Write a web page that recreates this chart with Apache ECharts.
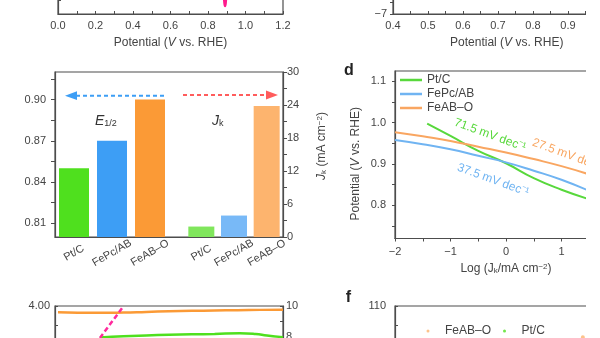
<!DOCTYPE html>
<html><head><meta charset="utf-8">
<script src="https://cdn.jsdelivr.net/npm/echarts@6/dist/echarts.min.js"></script>
<style>html,body{margin:0;padding:0;background:#fff;overflow:hidden}#main{width:586px;height:338px}</style>
</head><body><div id="main"></div>
<script>
// ---------- data ----------
const barCategories = ['Pt/C', 'FePc/AB', 'FeAB–O'];
const e12Values = [0.850, 0.870, 0.900];
const jkValues = [1.9, 3.9, 23.8];
const e12Labels = [0.81, 0.84, 0.87, 0.90];
const e12Ticks = [0.81, 0.825, 0.84, 0.855, 0.87, 0.885, 0.90, 0.915];
const jkLabels = [0, 6, 12, 18, 24, 30];
const jkTicks = [0, 3, 6, 9, 12, 15, 18, 21, 24, 27, 30];

const tafelNames = ['Pt/C', 'FePc/AB', 'FeAB–O'];
const tafelPtC = [[-1.42, 0.998], [-1.0, 0.968], [-0.5, 0.932], [0, 0.902], [0.5, 0.866], [1.0, 0.838], [1.5, 0.815]];
const tafelFePc = [[-2, 0.958], [-1.5, 0.948], [-1, 0.936], [-0.5, 0.920], [0, 0.904], [0.5, 0.884], [1.0, 0.862], [1.5, 0.835]];
const tafelFeAB = [[-2, 0.977], [-1.5, 0.967], [-1, 0.956], [-0.5, 0.942], [0, 0.928], [0.5, 0.912], [1.0, 0.895], [1.5, 0.875]];
const tafelXLabels = [-2, -1, 0, 1, 2];
const tafelXTicks = [-2, -1.5, -1, -0.5, 0, 0.5, 1, 1.5, 2];
const tafelYLabels = [0.8, 0.9, 1.0, 1.1];
const tafelYTicks = [0.75, 0.8, 0.85, 0.9, 0.95, 1.0, 1.05, 1.1];
const tafelSlopes = ['71.5', '37.5', '27.5'];

const aXLabels = [0, 0.2, 0.4, 0.6, 0.8, 1.0, 1.2];
const aXTicks = [0, 0.1, 0.2, 0.3, 0.4, 0.5, 0.6, 0.7, 0.8, 0.9, 1.0, 1.1, 1.2];
const aYTicks = [-6, -5.5, -5];
const aCurve = [[0.884, -5.2], [0.888, -5.6], [0.891, -5.71], [0.894, -5.6], [0.898, -5.2]];

const bXLabels = [0.4, 0.5, 0.6, 0.7, 0.8, 0.9, 1.0];
const bXTicks = [0.4, 0.45, 0.5, 0.55, 0.6, 0.65, 0.7, 0.75, 0.8, 0.85, 0.9, 0.95, 1.0, 1.05];
const bYLabels = [-7];
const bYTicks = [-7, -6.5];

const eLeftLabels = [4];
const eLeftTicks = [3.5, 4];
const eRightLabels = [8, 10];
const eRightTicks = [8, 9, 10];
const eFeAB = [[1.3, 9.59], [10, 9.57], [20, 9.56], [30, 9.58], [40, 9.62], [50, 9.66], [60, 9.69], [70, 9.71], [80, 9.73], [90, 9.75], [100, 9.76]];
const ePtC = [[19.7, 7.97], [30, 8.05], [40, 8.1], [50, 8.14], [60, 8.17], [70, 8.2], [81, 8.25], [88, 8.2], [93, 8.1], [100, 7.99]];
const eMagenta = [[19.7, 7.94], [29.8, 9.94]];

const fLabels = [110];
const fTicks = [105, 110];
const fFeAB = [[9.8, 101.8]];
const fPtC = [];

// ---------- styles ----------
const AX = '#4d4d4d';
const TXT = '#444';
const FONT = 'Liberation Sans, Arial, sans-serif';
const GREEN = '#4fe01e', BLUE = '#3d9ef5', ORANGE = '#fb9a36';
const LGREEN = '#80e65c', LBLUE = '#78b9f7', LORANGE = '#fdb46e';
const TGREEN = '#58d83c', TBLUE = '#70b4f2', TORANGE = '#f9a661';
const minus = v => String(v).replace('-', '−');
const line = {onZero: false, lineStyle: {color: AX, width: 1.2}};
const richSub = {
  n: {fontSize: 12, color: TXT, fontFamily: FONT},
  i: {fontSize: 12, color: TXT, fontStyle: 'italic', fontFamily: FONT},
  sub: {fontSize: 8, color: TXT, verticalAlign: 'bottom', fontFamily: FONT},
  sup: {fontSize: 8, color: TXT, verticalAlign: 'top', fontFamily: FONT}
};
const potName = '{n|Potential (}{i|V}{n| vs. RHE)}';
const frame = {show: true, borderColor: AX, borderWidth: 1.2, backgroundColor: 'transparent', outerBoundsMode: 'none', containLabel: false};
const plain = {outerBoundsMode: 'none', containLabel: false};

const chart = echarts.init(document.getElementById('main'));
const option = {
  animation: false,
  textStyle: {fontFamily: FONT, color: TXT},
  grid: [
    Object.assign({left: 58, top: -150, width: 225, height: 164}, frame),      // a
    Object.assign({left: 393, top: -155, width: 227.5, height: 169}, frame),   // b
    Object.assign({left: 55, top: 72, width: 228, height: 165}, frame),        // c frame
    Object.assign({left: 55, top: 72, width: 114, height: 165}, plain),        // c E1/2
    Object.assign({left: 185, top: 72, width: 98, height: 165}, plain),        // c Jk
    Object.assign({left: 395, top: 71, width: 222, height: 167.5}, frame),     // d
    Object.assign({left: 55, top: 306, width: 228, height: 155}, frame),       // e
    Object.assign({left: 395, top: 306, width: 230, height: 228}, frame)       // f
  ],
  legend: [
    {left: 400, top: 74, padding: 0, orient: 'vertical', icon: 'rect', itemWidth: 22, itemHeight: 2.5, itemGap: 2,
     selectedMode: false, data: tafelNames, textStyle: {fontSize: 12, color: TXT}},
    {left: 421.5, top: 320, orient: 'horizontal', icon: 'circle', itemWidth: 24, itemHeight: 3, itemGap: 12,
     selectedMode: false, data: ['f:FeAB–O', 'f:Pt/C'], formatter: n => n.slice(2), textStyle: {fontSize: 12, color: TXT}}
  ],
  xAxis: [
    {gridIndex: 0, type: 'value', min: 0, max: 1.2, axisLine: line, splitLine: {show: false},
     axisTick: {inside: true, length: 3, customValues: aXTicks, lineStyle: {color: AX}},
     axisLabel: {customValues: aXLabels, formatter: v => v.toFixed(1), margin: 6, fontSize: 11, color: TXT},
     name: potName, nameLocation: 'middle', nameGap: 23, nameTextStyle: {rich: richSub}},
    {gridIndex: 1, type: 'value', min: 0.4, max: 1.05, axisLine: line, splitLine: {show: false},
     axisTick: {inside: true, length: 3, customValues: bXTicks, lineStyle: {color: AX}},
     axisLabel: {customValues: bXLabels, formatter: v => v.toFixed(1), margin: 6, fontSize: 11, color: TXT},
     name: potName, nameLocation: 'middle', nameGap: 23, nameTextStyle: {rich: richSub}},
    {gridIndex: 2, type: 'value', min: 0, max: 1, axisLine: line, splitLine: {show: false},
     axisTick: {show: false}, axisLabel: {show: false}},
    {gridIndex: 3, type: 'category', data: barCategories, axisLine: {show: false}, axisTick: {show: false},
     axisLabel: {interval: 0, rotate: 30, align: 'center', verticalAlign: 'middle', margin: 16, fontSize: 11, color: TXT}},
    {gridIndex: 4, type: 'category', data: barCategories, axisLine: {show: false}, axisTick: {show: false},
     axisLabel: {interval: 0, rotate: 30, align: 'center', verticalAlign: 'middle', margin: 16, fontSize: 11, color: TXT}},
    {gridIndex: 5, type: 'value', min: -2, max: 2, axisLine: line, splitLine: {show: false},
     axisTick: {length: 3, customValues: tafelXTicks, lineStyle: {color: AX}},
     axisLabel: {customValues: tafelXLabels, formatter: minus, margin: 8, fontSize: 11, color: TXT},
     name: '{n|Log (}{n|J}{sub|k}{n|/mA cm}{sup|−2}{n|)}', nameLocation: 'middle', nameGap: 24,
     nameTextStyle: {rich: richSub}},
    {gridIndex: 6, type: 'value', min: 0, max: 100, axisLine: line, splitLine: {show: false},
     axisTick: {show: false}, axisLabel: {show: false}},
    {gridIndex: 7, type: 'value', min: 0, max: 12, axisLine: line, splitLine: {show: false},
     axisTick: {show: false}, axisLabel: {show: false}}
  ],
  yAxis: [
    {gridIndex: 0, type: 'value', min: -6, max: 0, axisLine: line, splitLine: {show: false},
     axisTick: {inside: true, length: 3, customValues: aYTicks, lineStyle: {color: AX}}, axisLabel: {show: false}},
    {gridIndex: 1, type: 'value', min: -7, max: 0, axisLine: line, splitLine: {show: false},
     axisTick: {length: 3, customValues: bYTicks, lineStyle: {color: AX}},
     axisLabel: {customValues: bYLabels, formatter: minus, margin: 6, fontSize: 11, color: TXT}},
    {gridIndex: 2, type: 'value', min: 0.80, max: 0.92, axisLine: line, splitLine: {show: false},
     axisTick: {length: 4, customValues: e12Ticks, lineStyle: {color: AX}},
     axisLabel: {customValues: e12Labels, formatter: v => v.toFixed(2), margin: 9, fontSize: 11, color: TXT}},
    {gridIndex: 2, type: 'value', position: 'right', min: 0, max: 30, axisLine: line, splitLine: {show: false},
     axisTick: {length: 4, customValues: jkTicks, lineStyle: {color: AX}},
     axisLabel: {customValues: jkLabels, margin: 4, fontSize: 11, color: TXT},
     name: '{i|J}{sub|k}{n| (mA cm}{sup|−2}{n|)}', nameLocation: 'middle', nameRotate: 90, nameGap: 33,
     nameTextStyle: {rich: richSub, padding: [0, 0, 0, 17]}},
    {gridIndex: 3, type: 'value', min: 0.80, max: 0.92, show: false},
    {gridIndex: 4, type: 'value', min: 0, max: 30, show: false},
    {gridIndex: 5, type: 'value', min: 0.72, max: 1.125, axisLine: line, splitLine: {show: false},
     axisTick: {length: 3, customValues: tafelYTicks, lineStyle: {color: AX}},
     axisLabel: {customValues: tafelYLabels, formatter: v => v.toFixed(1), margin: 9, fontSize: 11, color: TXT},
     name: potName, nameLocation: 'middle', nameGap: 33, nameTextStyle: {rich: richSub, padding: [0, 18, 0, 0]}},
    {gridIndex: 6, type: 'value', min: 0, max: 4, axisLine: line, splitLine: {show: false},
     axisTick: {inside: true, length: 3, customValues: eLeftTicks, lineStyle: {color: AX}},
     axisLabel: {customValues: eLeftLabels, formatter: v => v.toFixed(2), margin: 5, fontSize: 11, color: TXT}},
    {gridIndex: 6, type: 'value', position: 'right', min: 0, max: 10, axisLine: line, splitLine: {show: false},
     axisTick: {inside: true, length: 3, customValues: eRightTicks, lineStyle: {color: AX}},
     axisLabel: {customValues: eRightLabels, margin: 3, fontSize: 11, color: TXT}},
    {gridIndex: 7, type: 'value', min: 50, max: 110, axisLine: line, splitLine: {show: false},
     axisTick: {inside: true, length: 3, customValues: fTicks, lineStyle: {color: AX}},
     axisLabel: {customValues: fLabels, margin: 9, fontSize: 11, color: TXT}}
  ],
  series: [
    {name: 'a-curve', type: 'line', xAxisIndex: 0, yAxisIndex: 0, data: aCurve, smooth: true, symbol: 'none',
     lineStyle: {color: '#ff1a8c', width: 2.5}},
    {name: 'c-E12', type: 'bar', xAxisIndex: 3, yAxisIndex: 4, barWidth: 30,
     data: e12Values.map((v, i) => ({value: v, itemStyle: {color: [GREEN, BLUE, ORANGE][i]}}))},
    {name: 'c-Jk', type: 'bar', xAxisIndex: 4, yAxisIndex: 5, barWidth: 26,
     data: jkValues.map((v, i) => ({value: v, itemStyle: {color: [LGREEN, LBLUE, LORANGE][i]}}))},
    {name: tafelNames[0], type: 'line', xAxisIndex: 5, yAxisIndex: 6, data: tafelPtC, smooth: true, symbol: 'none',
     color: TGREEN, lineStyle: {color: TGREEN, width: 2}},
    {name: tafelNames[1], type: 'line', xAxisIndex: 5, yAxisIndex: 6, data: tafelFePc, smooth: true, symbol: 'none',
     color: TBLUE, lineStyle: {color: TBLUE, width: 2}},
    {name: tafelNames[2], type: 'line', xAxisIndex: 5, yAxisIndex: 6, data: tafelFeAB, smooth: true, symbol: 'none',
     color: TORANGE, lineStyle: {color: TORANGE, width: 2}},
    {name: 'e-FeAB', type: 'line', xAxisIndex: 6, yAxisIndex: 8, data: eFeAB, smooth: true, symbol: 'none',
     lineStyle: {color: ORANGE, width: 2.5}},
    {name: 'e-PtC', type: 'line', xAxisIndex: 6, yAxisIndex: 8, data: ePtC, smooth: true, symbol: 'none',
     lineStyle: {color: GREEN, width: 2.5}},
    {name: 'e-mag', type: 'line', xAxisIndex: 6, yAxisIndex: 8, data: eMagenta, symbol: 'none',
     lineStyle: {color: '#ff2a9d', width: 2.5, type: [5, 3]}},
    {name: 'f:FeAB–O', type: 'scatter', xAxisIndex: 7, yAxisIndex: 9, data: fFeAB, symbolSize: 4, color: LORANGE},
    {name: 'f:Pt/C', type: 'scatter', xAxisIndex: 7, yAxisIndex: 9, data: fPtC, symbolSize: 4, color: GREEN}
  ],
  graphic: [
    // c arrows
    {type: 'line', shape: {x1: 76, y1: 95.7, x2: 167, y2: 95.7}, style: {stroke: BLUE, lineWidth: 2, lineDash: [4, 3]}},
    {type: 'polygon', shape: {points: [[65, 95.7], [77, 91.3], [77, 100.1]]}, style: {fill: BLUE}},
    {type: 'line', shape: {x1: 183, y1: 95, x2: 267, y2: 95}, style: {stroke: '#ff5c5c', lineWidth: 2, lineDash: [4, 3]}},
    {type: 'polygon', shape: {points: [[278, 95], [266, 90.6], [266, 99.4]]}, style: {fill: '#ff5c5c'}},
    {type: 'text', x: 95, y: 114, style: {text: '{e|E}{s|1/2}', rich: {
      e: {fontSize: 14, fontStyle: 'italic', fill: '#333', fontFamily: FONT},
      s: {fontSize: 9, fill: '#333', verticalAlign: 'bottom', fontFamily: FONT}}}},
    {type: 'text', x: 212, y: 114, style: {text: '{e|J}{s|k}', rich: {
      e: {fontSize: 14, fontStyle: 'italic', fill: '#333', fontFamily: FONT},
      s: {fontSize: 9, fill: '#333', verticalAlign: 'bottom', fontFamily: FONT}}}},
    // d slope annotations
    ...[[490, 135, TGREEN], [493, 180, TBLUE], [568, 155, TORANGE]].map((p, i) => ({
      type: 'text', x: p[0], y: p[1], rotation: -20 * Math.PI / 180,
      style: {text: tafelSlopes[i] + ' mV dec⁻¹', align: 'center', verticalAlign: 'middle',
        fontSize: 12, fill: p[2], fontFamily: FONT}
    })),
    // panel letters
    {type: 'text', x: 349, y: 71, style: {text: 'd', fontSize: 16, fontWeight: 'bold', fill: '#222', align: 'center', verticalAlign: 'middle', fontFamily: FONT}},
    {type: 'text', x: 348.5, y: 298, style: {text: 'f', fontSize: 16, fontWeight: 'bold', fill: '#222', align: 'center', verticalAlign: 'middle', fontFamily: FONT}}
  ]
};
chart.setOption(option);
</script></body></html>
